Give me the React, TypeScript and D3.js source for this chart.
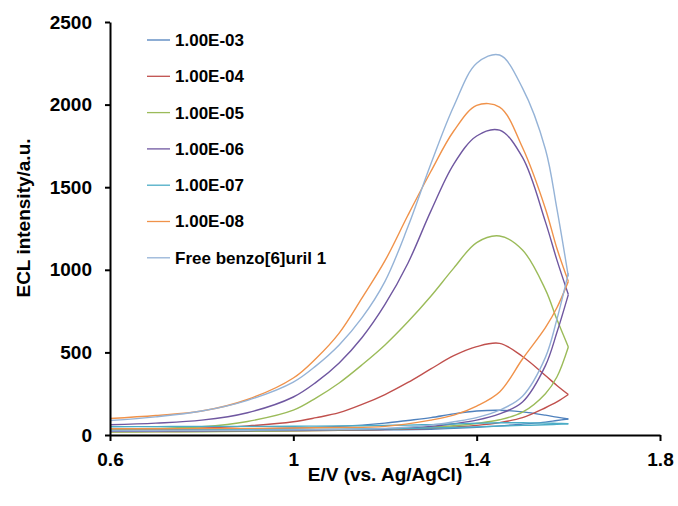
import { useEffect, useRef } from "react";
import * as d3 from "d3";

// potential grids (V) for the two halves of each scan
const scanForward = [0.6, 0.7, 0.8, 0.9, 1.0, 1.1, 1.2, 1.3, 1.35, 1.4, 1.45, 1.5, 1.55, 1.575, 1.6];
const scanReverse = [1.6, 1.575, 1.55, 1.5, 1.45, 1.4, 1.35, 1.3, 1.25, 1.2, 1.15, 1.1, 1.05, 1.0, 0.9, 0.8, 0.7, 0.6];

const seriesNames = ["1.00E-03", "1.00E-04", "1.00E-05", "1.00E-06", "1.00E-07", "1.00E-08", "Free benzo[6]uril 1"];

// ECL intensity (a.u.), forward scan 0.6 -> 1.6
const fwd03 = [22, 23, 24, 25, 27, 29, 31, 35, 40, 47, 55, 66, 78, 88, 97];
const fwd04 = [20, 21, 22, 23, 25, 28, 33, 40, 48, 58, 75, 105, 165, 200, 245];
const fwd05 = [18, 19, 20, 22, 25, 29, 35, 48, 56, 70, 92, 138, 250, 351, 533];
const fwd06 = [22, 23, 24, 26, 28, 31, 35, 52, 68, 90, 128, 200, 420, 620, 850];
const fwd07 = [30, 30, 31, 32, 33, 35, 38, 42, 45, 49, 54, 58, 62, 65, 68];
const fwd08 = [38, 38, 39, 40, 42, 45, 52, 90, 120, 175, 260, 460, 650, 770, 930];
const fwdFree = [25, 26, 27, 29, 31, 34, 40, 60, 80, 105, 150, 235, 470, 700, 980];

// reverse scan 1.6 -> 0.6
const rev03 = [97, 108, 120, 140, 150, 145, 128, 105, 88, 72, 60, 52, 46, 42, 36, 33, 31, 30];
const rev04 = [245, 300, 360, 475, 555, 535, 480, 400, 318, 245, 185, 135, 105, 80, 55, 42, 38, 35];
const rev05 = [533, 700, 880, 1120, 1205, 1165, 1010, 840, 685, 545, 425, 315, 225, 150, 82, 50, 40, 35];
const rev06 = [850, 1060, 1290, 1680, 1845, 1810, 1640, 1355, 1040, 790, 590, 436, 320, 230, 135, 90, 72, 62];
const rev07 = [68, 70, 72, 74, 74, 71, 67, 63, 60, 58, 56, 55, 54, 53, 52, 52, 51, 50];
const rev08 = [930, 1130, 1370, 1740, 1985, 1995, 1840, 1595, 1330, 1055, 830, 617, 465, 345, 215, 145, 118, 100];
const revFree = [960, 1370, 1730, 2100, 2300, 2250, 1990, 1640, 1260, 930, 710, 545, 420, 320, 210, 145, 110, 88];

const forwardData = [fwd03, fwd04, fwd05, fwd06, fwd07, fwd08, fwdFree];
const reverseData = [rev03, rev04, rev05, rev06, rev07, rev08, revFree];

const xTicks = [0.6, 1, 1.4, 1.8];
const yTicks = [0, 500, 1000, 1500, 2000, 2500];

const colors = ["#4F81BD", "#C0504D", "#9BBB59", "#6F57A0", "#4BACC6", "#F0924A", "#95B3D7"];

export default function App() {
  const ref = useRef<SVGSVGElement | null>(null);

  useEffect(() => {
    const width = 678;
    const height = 506;
    const font = "'Liberation Sans', Arial, sans-serif";

    const svg = d3.select(ref.current);
    svg.selectAll("*").remove();
    svg.attr("width", width).attr("height", height);

    const x = d3.scaleLinear().domain([0.6, 1.8]).range([110, 660]);
    const y = d3.scaleLinear().domain([0, 2500]).range([435, 22]);

    const line = d3
      .line<[number, number]>()
      .x((d) => x(d[0]))
      .y((d) => y(d[1]))
      .curve(d3.curveCatmullRom.alpha(0.5));

    const plot = svg.append("g");
    seriesNames.forEach((name, i) => {
      const fwd = scanForward.map((e, k) => [e, forwardData[i][k]] as [number, number]);
      const rev = scanReverse.map((e, k) => [e, reverseData[i][k]] as [number, number]);
      [fwd, rev].forEach((pts) => {
        plot
          .append("path")
          .attr("d", line(pts))
          .attr("fill", "none")
          .attr("stroke", colors[i])
          .attr("stroke-width", 1.4)
          .attr("stroke-linejoin", "round");
      });
    });

    // axes
    const yAxis = svg
      .append("g")
      .attr("transform", "translate(110,0)")
      .call(
        d3
          .axisLeft(y)
          .tickValues(yTicks)
          .tickSize(5)
          .tickSizeOuter(0)
          .tickPadding(13)
          .tickFormat((d) => String(d))
      );
    const xAxis = svg
      .append("g")
      .attr("transform", "translate(0,435)")
      .call(
        d3
          .axisBottom(x)
          .tickValues(xTicks)
          .tickSize(6)
          .tickSizeOuter(0)
          .tickPadding(12)
          .tickFormat((d) => String(d))
      );
    [yAxis, xAxis].forEach((g) => {
      g.select(".domain").attr("stroke", "#000").attr("stroke-width", 2);
      g.selectAll(".tick line").attr("stroke", "#000").attr("stroke-width", 2);
      g.selectAll(".tick text")
        .attr("fill", "#000")
        .style("font-family", font)
        .style("font-size", "19px")
        .style("font-weight", "bold");
    });

    // axis titles
    svg
      .append("text")
      .attr("x", 385)
      .attr("y", 481)
      .attr("text-anchor", "middle")
      .style("font-family", font)
      .style("font-size", "19px")
      .style("font-weight", "bold")
      .text("E/V (vs. Ag/AgCl)");

    svg
      .append("text")
      .attr("transform", "translate(23,218) rotate(-90)")
      .attr("text-anchor", "middle")
      .attr("dy", "0.35em")
      .style("font-family", font)
      .style("font-size", "19px")
      .style("font-weight", "bold")
      .text("ECL intensity/a.u.");

    // legend
    const legend = svg.append("g");
    seriesNames.forEach((name, i) => {
      const ly = 40 + i * 36.3;
      legend
        .append("line")
        .attr("x1", 147)
        .attr("x2", 170)
        .attr("y1", ly)
        .attr("y2", ly)
        .attr("stroke", colors[i])
        .attr("stroke-width", 1.3);
      legend
        .append("text")
        .attr("x", 175)
        .attr("y", ly)
        .attr("dy", "0.35em")
        .style("font-family", font)
        .style("font-size", "17px")
        .style("font-weight", "bold")
        .text(name);
    });
  }, []);

  return <svg ref={ref} style={{ position: "absolute", left: 0, top: 0, background: "#fff" }} />;
}
